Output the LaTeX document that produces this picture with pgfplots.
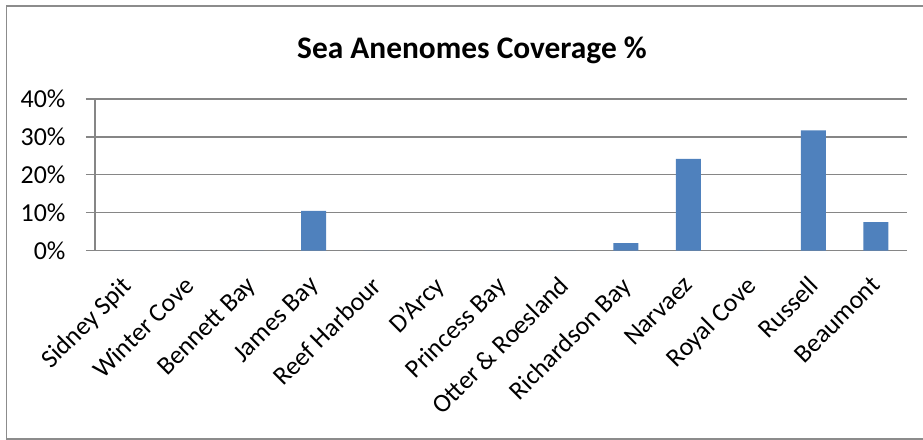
\documentclass[border=0pt]{standalone}
\usepackage{fontspec}
\setmainfont{Carlito}
\usepackage{pgfplots}
\pgfplotsset{compat=1.18}
\definecolor{barblue}{HTML}{4F81BD}
\definecolor{gridgray}{HTML}{868686}
\definecolor{framegray}{HTML}{8C8C8C}
\begin{document}
\begin{tikzpicture}[x=1bp,y=1bp]
\useasboundingbox (0,0) rectangle (923,440);
\begin{scope}
\clip (0,0) rectangle (923,440);
% chart border (its right side lies outside the page)
\draw[framegray, line width=1.6bp] (950,434) -- (6.5,434) -- (6.5,1) -- (950,1);
\end{scope}
\node[font=\fontsize{31.5}{36}\selectfont\bfseries, anchor=base] at (472,381.7) {Sea Anenomes Coverage \%};
\begin{axis}[
  at={(95bp,189.3bp)}, anchor=south west,
  scale only axis,
  width=812bp, height=151.7bp,
  xmin=-0.5, xmax=12.5,
  ymin=0, ymax=40,
  axis x line*=bottom, axis y line*=left,
  axis line style={gridgray, line width=1.2bp},
  ytick={0,10,20,30,40},
  yticklabel={\pgfmathprintnumber{\tick}\%},
  ymajorgrids,
  grid style={gridgray, line width=1.2bp},
  tick align=outside,
  major tick length=9bp,
  minor tick length=8bp,
  tick style={gridgray, line width=1.2bp},
  xtick={0,...,12},
  xticklabels={Sidney Spit, Winter Cove, Bennett Bay, James Bay, Reef Harbour, D’Arcy, Princess Bay, Otter \& Roesland, Richardson Bay, Narvaez, Royal Cove, Russell, Beaumont},
  x tick style={draw=none},
  minor xtick={-0.5,0.5,...,12.5},
  minor x tick style={gridgray, line width=1.2bp},
  xticklabel style={xshift=-6bp, yshift=-15bp, rotate=45, anchor=north east, inner sep=0pt},
  yticklabel style={xshift=-17bp},
  ticklabel style={font=\fontsize{26}{30}\selectfont, text=black},
  /pgf/number format/assume math mode=true,
  ybar, bar width=25bp, bar shift=0pt,
  clip=false,
]
\addplot[fill=barblue, draw=none] coordinates {
  (0,0) (1,0) (2,0) (3,10.5) (4,0) (5,0) (6,0) (7,0)
  (8,2.0) (9,24.2) (10,0) (11,31.7) (12,7.5)
};
\end{axis}
\end{tikzpicture}
\end{document}
